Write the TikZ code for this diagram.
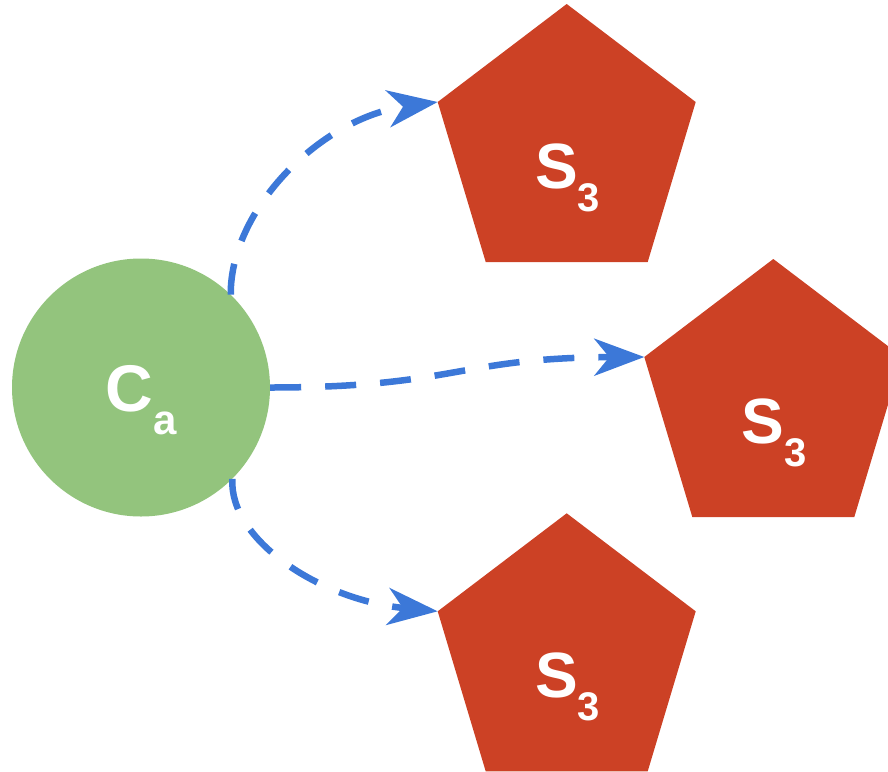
\documentclass[tikz,border=0pt]{standalone}
\usepackage{fontspec}
\setmainfont{Liberation Sans}
\usetikzlibrary{arrows.meta,calc}

\definecolor{nodegreen}{HTML}{93C47D}
\definecolor{pentred}{HTML}{CC4125}
\definecolor{linkblue}{HTML}{3C78D8}

\tikzset{
  hub/.style={circle, fill=nodegreen, draw=none, minimum size=258pt, inner sep=0pt},
  pentfill/.style={fill=pentred, draw=none},
  biglabel/.style={text=white, font=\bfseries, inner sep=0pt, anchor=base},
  link/.style={draw=linkblue, line width=6.5pt, dash pattern=on 31pt off 24pt,
    -{Stealth[length=50pt, width=37pt, inset=15pt]}},
}

% pentagon given by its top vertex; defines (#1w) for the left corner
\newcommand\pentnode[3]{%
  \coordinate (#1top) at (#2,#3);
  \fill[pentfill] (#1top) -- ++(129,98) coordinate (#1e) -- ++(-48,160)
    -- ++(-162,0) -- ++(-48,-160) coordinate (#1w) -- cycle;
  \node[biglabel] (#1) at ($(#1top)+(1,184)$)
    {\fontsize{64}{64}\selectfont S\raisebox{-23pt}{\fontsize{40}{40}\selectfont 3}};
}

\begin{document}
\begin{tikzpicture}[x=1pt,y=-1pt]
  \useasboundingbox (0,0) rectangle (888,771);

  % source circle
  \node[hub] (ca) at (141,387.5) {};
  \node[biglabel] (calabel) at (141,411)
    {\fontsize{66}{66}\selectfont C\raisebox{-23pt}{\fontsize{42}{42}\selectfont a}};

  % target pentagons
  \pentnode{sa}{566.7}{4}
  \pentnode{sb}{773.3}{259}
  \pentnode{sc}{566.7}{513.3}

  % dashed links
  \draw[link] (ca.46) .. controls (230,210) and (320,118) .. (saw);
  \draw[link] (ca.east) .. controls (457,387.5) and (457,357.7) .. (sbw);
  \draw[link] (ca.-45) .. controls (229,540) and (320,600) .. (scw);
\end{tikzpicture}
\end{document}
